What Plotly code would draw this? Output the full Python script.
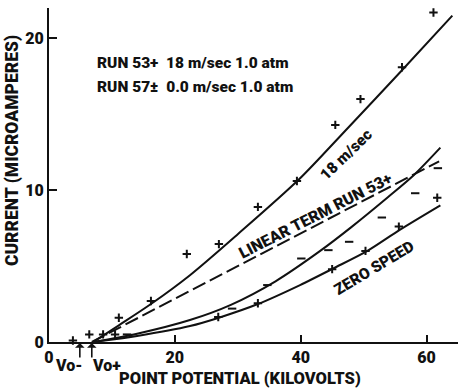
import plotly.graph_objects as go

# ---- data ----
# fitted curves
c18_x = [7.0, 11.1, 16.2, 22.4, 30.0, 39.7, 47.5, 56.1, 64.1]
c18_y = [0.0, 1.1, 2.5, 4.4, 7.1, 10.7, 14.1, 17.9, 21.5]

lin_x = [6.8, 62.0]
lin_y = [0.0, 11.9]

neg_x = [7.0, 14.0, 22.4, 28.9, 36.0, 43.1, 48.0, 53.9, 58.0, 62.2]
neg_y = [0.0, 0.55, 1.45, 2.45, 4.0, 6.0, 7.55, 9.55, 11.0, 12.8]

zero_x = [7.0, 14.0, 22.4, 27.0, 33.2, 39.9, 45.2, 50.6, 55.8, 62.2]
zero_y = [0.0, 0.4, 1.05, 1.6, 2.5, 3.75, 4.85, 6.0, 7.4, 9.0]

# measured points
p18_x = [3.8, 6.4, 8.6, 11.1, 16.2, 21.9, 27.0, 33.2, 39.4, 45.5, 49.5, 56.1, 61.1]
p18_y = [0.1, 0.5, 0.5, 1.6, 2.7, 5.8, 6.45, 8.9, 10.6, 14.3, 16.0, 18.1, 21.7]

p57p_x = [10.5, 26.9, 33.2, 45.0, 50.3, 55.6, 61.7]
p57p_y = [0.5, 1.65, 2.55, 4.8, 6.0, 7.6, 9.5]

p57m_x = [12.4, 29.1, 34.7, 40.1, 44.4, 47.7, 52.9, 58.2, 61.8]
p57m_y = [0.5, 2.2, 3.75, 5.5, 6.05, 6.6, 8.2, 9.8, 11.45]

x_ticks = [0, 20, 40, 60]
y_ticks = [0, 10, 20]
v0_minus = 4.9
v0_plus = 6.8

FONT = "Roboto, Liberation Sans, Arial, sans-serif"
BLACK = "#111111"

fig = go.Figure()

line_style = dict(color=BLACK, width=2, shape="spline", smoothing=0.8)
fig.add_trace(go.Scatter(x=c18_x, y=c18_y, mode="lines", line=line_style, cliponaxis=False))
fig.add_trace(go.Scatter(x=lin_x, y=lin_y, mode="lines",
                         line=dict(color=BLACK, width=2, dash="14px,5px")))
fig.add_trace(go.Scatter(x=neg_x, y=neg_y, mode="lines", line=line_style))
fig.add_trace(go.Scatter(x=zero_x, y=zero_y, mode="lines", line=line_style))

plus_marker = dict(symbol="cross-thin", size=6, line=dict(color=BLACK, width=2))
minus_marker = dict(symbol="line-ew", size=6, line=dict(color=BLACK, width=2))
fig.add_trace(go.Scatter(x=p18_x, y=p18_y, mode="markers", marker=plus_marker, cliponaxis=False))
fig.add_trace(go.Scatter(x=p57p_x, y=p57p_y, mode="markers", marker=plus_marker, cliponaxis=False))
fig.add_trace(go.Scatter(x=p57m_x, y=p57m_y, mode="markers", marker=minus_marker, cliponaxis=False))

font = lambda s: dict(family=FONT, size=s, color=BLACK, weight=900)

annotations = [
    dict(x=7.3, y=18.4, xref="x", yref="y", text="RUN 53+  18 m/sec 1.0 atm",
         showarrow=False, xanchor="left", yanchor="middle", font=font(15.5)),
    dict(x=7.3, y=16.8, xref="x", yref="y", text="RUN 57±  0.0 m/sec 1.0 atm",
         showarrow=False, xanchor="left", yanchor="middle", font=font(15.5)),
    dict(x=47.2, y=12.3, xref="x", yref="y", text="18 m/sec", textangle=-44,
         showarrow=False, font=font(15.5)),
    dict(x=42.4, y=8.3, xref="x", yref="y", text="LINEAR TERM RUN 53+", textangle=-27,
         showarrow=False, font=font(16)),
    dict(x=51.7, y=4.9, xref="x", yref="y", text="ZERO SPEED", textangle=-31,
         showarrow=False, font=font(15.5)),
    # V0 arrows
    dict(x=v0_minus, y=0, xref="x", yref="y", text="", showarrow=True, ax=0, ay=17,
         arrowhead=1, arrowsize=1, arrowwidth=1.6, arrowcolor=BLACK, standoff=1),
    dict(x=v0_plus, y=0, xref="x", yref="y", text="", showarrow=True, ax=0, ay=17,
         arrowhead=1, arrowsize=1, arrowwidth=1.6, arrowcolor=BLACK, standoff=1),
    dict(x=(68 - 49) / 409, y=-24 / 334, xref="paper", yref="paper", text="Vo-",
         showarrow=False, xanchor="center", yanchor="middle", font=font(16)),
    dict(x=(106 - 49) / 409, y=-24 / 334, xref="paper", yref="paper", text="Vo+",
         showarrow=False, xanchor="center", yanchor="middle", font=font(16)),
    # axis titles
    dict(x=(240 - 49) / 409, y=-48 / 334, xref="paper", yref="paper",
         text="POINT POTENTIAL (KILOVOLTS)", showarrow=False, xanchor="center",
         yanchor="bottom", font=font(16.5)),
    dict(x=-(49 - 12) / 409, y=(342 - 151) / 334, xref="paper", yref="paper",
         text="CURRENT (MICROAMPERES)", showarrow=False, textangle=-90,
         xanchor="center", yanchor="middle", font=font(17.5)),
]

fig.update_layout(
    width=462, height=390,
    margin=dict(l=49, r=4, t=8, b=48),
    paper_bgcolor="white", plot_bgcolor="white",
    showlegend=False,
    annotations=annotations,
)
fig.update_xaxes(range=[0, 65], tickvals=x_ticks,
                 ticks="inside", ticklen=7, tickwidth=2,
                 tickcolor=BLACK, showline=True, linewidth=2, linecolor=BLACK,
                 showgrid=False, zeroline=False, tickfont=font(16))
fig.update_yaxes(range=[0, 22], tickvals=y_ticks,
                 ticks="inside", ticklen=8, tickwidth=2,
                 tickcolor=BLACK, showline=True, linewidth=2, linecolor=BLACK,
                 showgrid=False, zeroline=False, tickfont=font(16))

fig.write_html("out.html")
